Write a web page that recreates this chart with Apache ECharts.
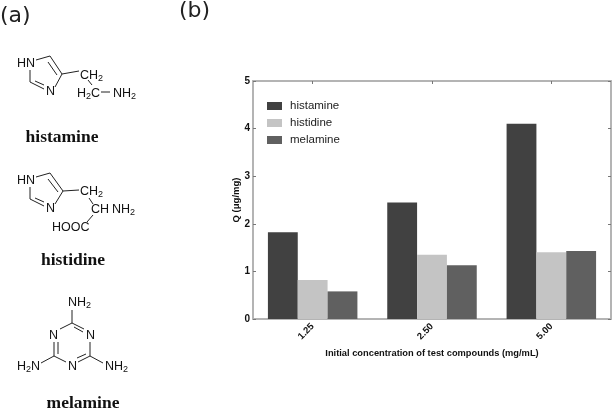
<!DOCTYPE html>
<html><head><meta charset="utf-8">
<style>html,body{margin:0;padding:0;background:#fff}#c{width:614px;height:410px;filter:blur(0.35px)}</style>
<script src="https://cdn.jsdelivr.net/npm/echarts@6/dist/echarts.min.js"></script>
</head><body><div id="c"></div>
<script>
const categories = ['1.25', '2.50', '5.00'];
const histamine = [1.82, 2.45, 4.1];
const histidine = [0.82, 1.35, 1.4];
const melamine = [0.58, 1.13, 1.43];
const yTicks = [0, 1, 2, 3, 4, 5];

const AXIS = '#b4b4b4';
const SF = 'Liberation Sans, Arial, sans-serif';

// Skeletal formula decoration (panel a)
const bonds = [
  // histamine
  [36,60,50,56],[50,56,62,74],[48,62,57,75],[62,74,55,87],[30,70,30,82],[30,82,44,89],[35,81,44,85],
  [62,74,79,71],[88,80,92,85],[101,92,110,92],
  // histidine
  [36,177,50,173],[50,173,63,191],[48,179,58,192],[63,191,55,204],[30,187,30,199],[30,199,44,206],[35,198,44,202],
  [63,191,79,190],[89,198,93,204],[93,215,87,222],
  // melamine
  [72,310,72,323],[72,323,84,329],[74,327,83,332],[60,329,72,323],[54,342,54,356],[58,342,58,354],
  [54,356,66,362],[78,362,90,356],[77,358,86,354],[90,342,90,356],[54,356,41,363],[90,356,103,363]
];
const atoms = [
  ['HN',17,64],['N',46,92],['CH',80,76,'2'],['H',77,94,'2','C'],['NH',113,94,'2'],
  ['HN',17,181],['N',46,209],['CH',80,192,'2'],['CH',91,210],['NH',112,210,'2'],['HOOC',52,228],
  ['NH',68,303,'2'],['N',49,336],['N',86,336],['N',68,367],['H',17,367,'2','N'],['NH',105,367,'2']
];
const names = [['histamine',62,137],['histidine',73,260],['melamine',83,403]];

const gfx = [];
bonds.forEach(b => gfx.push({type:'line',silent:true,shape:{x1:b[0],y1:b[1],x2:b[2],y2:b[3]},style:{stroke:'#222',lineWidth:1}}));
atoms.forEach(a => {
  let t = a[0];
  if (a[3]) t += '{s|' + a[3] + '}';
  if (a[4]) t += a[4];
  gfx.push({type:'text',silent:true,x:a[1],y:a[2],style:{
    text:t,font:'12.5px ' + SF,fill:'#111',verticalAlign:'middle',
    rich:{s:{font:'9px ' + SF,fill:'#111',padding:[6,0,0,0]}}
  }});
});
names.forEach(n => gfx.push({type:'text',silent:true,x:n[1],y:n[2],style:{
  text:n[0],font:'bold 17.5px Liberation Serif, serif',fill:'#111',align:'center',verticalAlign:'middle'}}));
gfx.push({type:'text',silent:true,x:0,y:16,style:{text:'(a)',font:'22px DejaVu Sans, sans-serif',fill:'#222',verticalAlign:'middle'}});
gfx.push({type:'text',silent:true,x:179,y:11,style:{text:'(b)',font:'22px DejaVu Sans, sans-serif',fill:'#222',verticalAlign:'middle'}});

const mk = (name, data, color) => ({
  name, type:'bar', data, barWidth:'25%', barGap:'0%',
  itemStyle:{color}
});
const chart = echarts.init(document.getElementById('c'), null, {renderer:'canvas'});
chart.setOption({
  animation:false,
  backgroundColor:'#fff',
  grid:{left:253,top:81,width:358,height:238,containLabel:false,show:false},
  legend:{
    left:262,top:95,orient:'vertical',itemWidth:15,itemHeight:8,itemGap:5,
    icon:'rect',
    textStyle:{fontFamily:SF,fontSize:11.5,color:'#222',padding:[0,0,0,3]},
    data:['histamine','histidine','melamine']
  },
  xAxis:[
    {type:'category',data:categories,position:'bottom',
     axisLine:{show:true,onZero:false,lineStyle:{color:AXIS,width:2}},
     axisTick:{show:true,alignWithLabel:true,inside:true,length:3,lineStyle:{color:'#777'}},
     axisLabel:{rotate:45,fontFamily:SF,fontWeight:'bold',fontSize:9.5,color:'#111',margin:6},
     name:'Initial concentration of test compounds (mg/mL)',nameLocation:'middle',nameGap:28,
     nameTextStyle:{fontFamily:SF,fontWeight:'bold',fontSize:9.3,color:'#111'}},
    {type:'category',data:categories,position:'top',
     axisLine:{show:true,onZero:false,lineStyle:{color:AXIS,width:2}},
     axisTick:{show:true,alignWithLabel:true,inside:true,length:3,lineStyle:{color:'#777'}},
     axisLabel:{show:false}}
  ],
  yAxis:[
    {type:'value',min:yTicks[0],max:yTicks[5],interval:1,position:'left',
     splitLine:{show:false},
     axisLine:{show:true,onZero:false,lineStyle:{color:AXIS,width:2}},
     axisTick:{show:true,inside:true,length:3,lineStyle:{color:'#777'}},
     axisLabel:{fontFamily:SF,fontWeight:'bold',fontSize:10,color:'#111',margin:3},
     name:'Q (\u03bcg/mg)',nameLocation:'middle',nameGap:12,nameMoveOverlap:false,
     nameTextStyle:{fontFamily:SF,fontWeight:'bold',fontSize:9.5,color:'#111'}},
    {type:'value',min:yTicks[0],max:yTicks[5],interval:1,position:'right',
     splitLine:{show:false},
     axisLine:{show:true,onZero:false,lineStyle:{color:AXIS,width:2}},
     axisTick:{show:true,inside:true,length:3,lineStyle:{color:'#777'}},
     axisLabel:{show:false}}
  ],
  series:[
    mk('histamine',histamine,'#414141'),
    mk('histidine',histidine,'#c4c4c4'),
    mk('melamine',melamine,'#606060')
  ],
  graphic:gfx
});
</script></body></html>
